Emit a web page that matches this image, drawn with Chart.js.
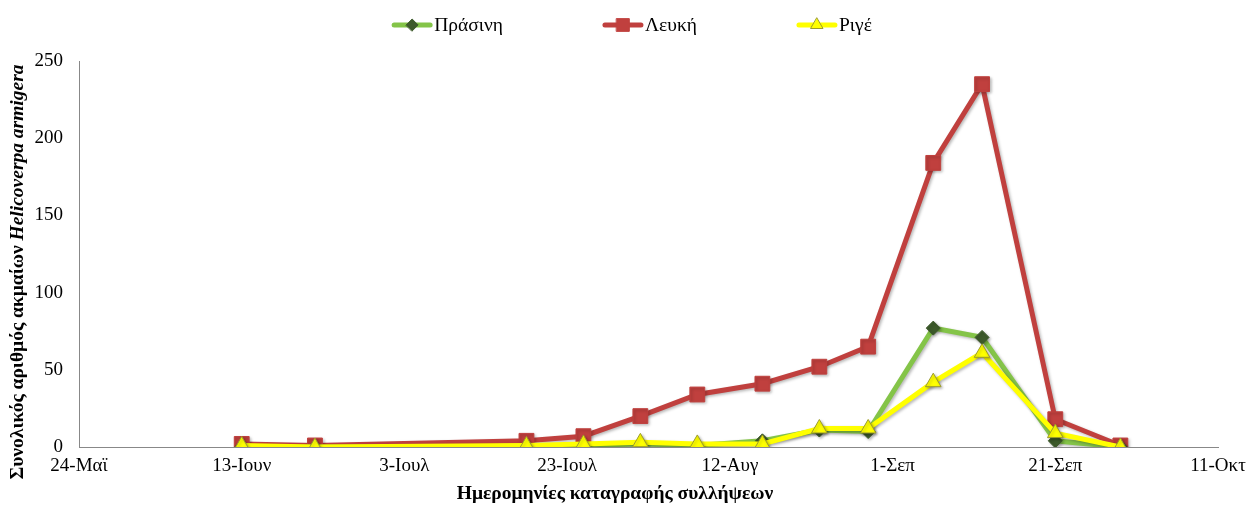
<!DOCTYPE html>
<html>
<head>
<meta charset="utf-8">
<script src="https://cdn.jsdelivr.net/npm/chart.js@4/dist/chart.umd.min.js"></script>
<style>
  html, body { margin: 0; padding: 0; background: #fff; }
  #wrap { width: 1250px; height: 508px; }
</style>
</head>
<body>
<div id="wrap"><canvas id="trapChart"></canvas></div>
<script>
// sampling dates, as days after 24 May
const sampleDays = [20, 29, 55, 62, 69, 76, 84, 91, 97, 105, 111, 120, 128];
const tickLabels = ["24-Μαϊ", "13-Ιουν", "3-Ιουλ", "23-Ιουλ", "12-Αυγ", "1-Σεπ", "21-Σεπ", "11-Οκτ"];

const seriesNames = ["Πράσινη", "Λευκή", "Ριγέ"];
const prasini = [0, 0, 0, 1, 2, 1, 4, 11, 10, 77, 71, 4, 0];
const lefki = [2, 1, 4, 7, 20, 34, 41, 52, 65, 184, 235, 18, 1];
const rige = [1, 0, 1, 2, 3, 2, 2, 12, 12, 42, 61, 9, 0];

const yTitleA = "Συνολικός αριθμός ακμαίων ";
const yTitleB = "Helicoverpa armigera";
const xTitle = "Ημερομηνίες καταγραφής συλλήψεων";

const FONT = "'Liberation Serif', 'Times New Roman', serif";

function toPoints(values) {
  return values.map((v, i) => ({ x: sampleDays[i], y: v }));
}

// titles + legend drawn by hand so the mixed italic/bold and spacing match
const extrasPlugin = {
  id: "extras",
  beforeDatasetsDraw(chart) {
    const ctx = chart.ctx;
    ctx.save();
    ctx.shadowColor = "rgba(0,0,0,0.28)";
    ctx.shadowBlur = 3;
    ctx.shadowOffsetX = 1.5;
    ctx.shadowOffsetY = 1.5;
  },
  afterDatasetsDraw(chart) {
    chart.ctx.restore();
  },
  afterDraw(chart) {
    const ctx = chart.ctx;
    ctx.save();
    ctx.fillStyle = "#000";
    ctx.textBaseline = "middle";

    // x title
    ctx.font = "bold 19.5px " + FONT;
    ctx.textAlign = "center";
    ctx.fillText(xTitle, 615, 494);

    // y title, rotated
    ctx.save();
    ctx.translate(18, 272);
    ctx.rotate(-Math.PI / 2);
    ctx.font = "bold 19.5px " + FONT;
    const wA = ctx.measureText(yTitleA).width;
    ctx.font = "bold italic 19.5px " + FONT;
    const wB = ctx.measureText(yTitleB).width;
    let x0 = -(wA + wB) / 2;
    ctx.textAlign = "left";
    ctx.font = "bold 19.5px " + FONT;
    ctx.fillText(yTitleA, x0, 0);
    ctx.font = "bold italic 19.5px " + FONT;
    ctx.fillText(yTitleB, x0 + wA, 0);
    ctx.restore();

    // legend
    ctx.font = "19.5px " + FONT;
    ctx.textAlign = "left";
    const lineLen = 40, gap = 2, spacing = 100;
    const widths = chart.data.datasets.map(ds => lineLen + gap + ctx.measureText(ds.label).width);
    const total = widths.reduce((a, b) => a + b, 0) + spacing * (widths.length - 1);
    let lx = 632 - total / 2;
    const ly = 25;
    chart.data.datasets.forEach((ds, i) => {
      ctx.save();
      ctx.strokeStyle = ds.borderColor;
      ctx.lineWidth = ds.borderWidth;
      ctx.lineCap = "round";
      ctx.beginPath();
      ctx.moveTo(lx + 2, ly);
      ctx.lineTo(lx + lineLen - 2, ly);
      ctx.stroke();
      ctx.fillStyle = ds.pointBackgroundColor;
      ctx.strokeStyle = ds.pointBorderColor;
      ctx.lineWidth = 1;
      Chart.helpers.drawPoint(ctx, {
        pointStyle: ds.pointStyle,
        radius: ds.legendRadius,
        rotation: 0,
        borderWidth: 1
      }, lx + lineLen / 2, ly);
      ctx.restore();
      ctx.fillStyle = "#000";
      ctx.fillText(ds.label, lx + lineLen + gap, ly + 1);
      lx += widths[i] + spacing;
    });
    ctx.restore();
  }
};

const ctx = document.getElementById("trapChart").getContext("2d");

new Chart(ctx, {
  type: "line",
  data: {
    datasets: [
      {
        label: seriesNames[0],
        data: toPoints(prasini),
        borderColor: "#84c448",
        borderWidth: 5,
        pointStyle: "rectRot",
        pointRadius: 7,
        legendRadius: 6,
        pointBackgroundColor: "#3d5a2b",
        pointBorderColor: "#3d5a2b",
        pointBorderWidth: 1,
        tension: 0,
        order: 2
      },
      {
        label: seriesNames[1],
        data: toPoints(lefki),
        borderColor: "#c0403e",
        borderWidth: 5,
        pointStyle: "rect",
        pointRadius: 10.5,
        legendRadius: 9,
        pointBackgroundColor: "#c0403e",
        pointBorderColor: "#c0403e",
        pointBorderWidth: 1,
        tension: 0,
        order: 3
      },
      {
        label: seriesNames[2],
        data: toPoints(rige),
        borderColor: "#ffff00",
        borderWidth: 5,
        pointStyle: "triangle",
        pointRadius: 9,
        legendRadius: 7,
        pointBackgroundColor: "#ffff00",
        pointBorderColor: "#9c9c2c",
        pointBorderWidth: 1,
        tension: 0,
        order: 1
      }
    ]
  },
  options: {
    responsive: true,
    maintainAspectRatio: false,
    animation: false,
    layout: { padding: { top: 61, right: 32, left: 0, bottom: 0 } },
    plugins: {
      legend: { display: false },
      tooltip: { enabled: false }
    },
    scales: {
      x: {
        type: "linear",
        min: 0,
        max: 140,
        grid: { display: false, drawTicks: false },
        border: { display: true, color: "#888", width: 1 },
        ticks: {
          stepSize: 20,
          padding: 8,
          color: "#000",
          maxRotation: 0,
          font: { family: FONT, size: 19 },
          callback: (value) => tickLabels[value / 20]
        },
        afterFit: (scale) => {
          scale.height = 61;
          scale.paddingLeft = 0;
          scale.paddingRight = 0;
        }
      },
      y: {
        min: 0,
        max: 250,
        grid: { display: false, drawTicks: false },
        border: { display: true, color: "#888", width: 1 },
        ticks: {
          stepSize: 50,
          padding: 16,
          color: "#000",
          font: { family: FONT, size: 19 }
        },
        afterFit: (scale) => { scale.width = 79; }
      }
    }
  },
  plugins: [extrasPlugin]
});
</script>
</body>
</html>
